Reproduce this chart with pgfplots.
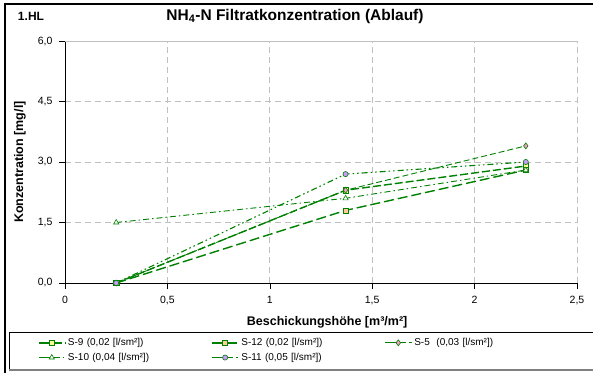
\documentclass[border=0pt]{standalone}
\usepackage{fontspec}
\setmainfont{Liberation Sans}
\usepackage{pgfplots}
\pgfplotsset{compat=1.18}
\definecolor{lgreen}{HTML}{008000}
\definecolor{gridgray}{HTML}{C0C0C0}
\definecolor{fyellow}{HTML}{FFFF99}
\definecolor{forange}{HTML}{FFCC99}
\definecolor{fpink}{HTML}{FF99CC}
\definecolor{fviolet}{HTML}{CC99FF}
\begin{document}
\begin{tikzpicture}
\begin{axis}[
  at={(0,0)}, anchor=south west,
  scale only axis,
  width=512pt, height=242pt,
  xmin=0, xmax=2.5, ymin=0, ymax=6,
  xtick={0,0.5,1,1.5,2,2.5},
  ytick={0,1.5,3,4.5,6},
  axis x line*=bottom, axis y line*=left,
  axis line style={black, line width=0.8pt, -},
  tick style={black, line width=0.6pt},
  tick align=outside,
  major tick length=6pt,
  grid=major,
  major grid style={gridgray, dash pattern=on 6pt off 4pt, line width=0.7pt},
  /pgf/number format/assume math mode=true,
  /pgf/number format/use comma,
  yticklabel style={/pgf/number format/fixed, /pgf/number format/fixed zerofill, /pgf/number format/precision=1, xshift=-3pt},
  ticklabel style={font=\fontsize{10.5}{12}\selectfont},
  xticklabel style={yshift=-4pt},
  xlabel={\textbf{Beschickungshöhe [m³/m²]}},
  xlabel style={font=\fontsize{12.5}{14}\selectfont, at={(axis description cs:0.512,0)}, anchor=center, yshift=-39pt},
  ylabel={\textbf{Konzentration [mg/l]}},
  ylabel style={font=\fontsize{12.5}{14}\selectfont, at={(axis description cs:-0.088,0.5)}, anchor=center},
  legend columns=3,
  legend cell align=left,
  legend style={at={(axis description cs:-0.053,-0.222)}, anchor=north west, draw=none, fill=none,
    font=\fontsize{10}{12}\selectfont, inner xsep=0pt, inner ysep=0pt, row sep=3pt,
    nodes={text width=142pt, align=left, inner sep=1.5pt}},
  legend image code/.code={
    \draw[#1, solid] (0pt,0pt) -- (15pt,0pt);
    \draw[#1] (15pt,0pt) -- (27pt,0pt);
    \draw[#1, solid] plot coordinates {(13pt,0pt)};
  },
]
% S-9
\addplot[lgreen, line width=1.4pt, dash pattern=on 8pt off 3pt, mark=square*, mark size=2.6pt,
  mark options={solid, fill=fyellow, draw=lgreen, line width=0.6pt}]
  coordinates {(0.25,0) (1.37,2.3) (2.25,2.9)};
\addlegendentry{S-9 (0,02 [l/sm²])}
% S-12
\addplot[lgreen, line width=1.4pt, dash pattern=on 10pt off 4pt, mark=square*, mark size=2.6pt,
  mark options={solid, fill=forange, draw=lgreen, line width=0.6pt}]
  coordinates {(0.25,0) (1.37,1.8) (2.25,2.8)};
\addlegendentry{S-12 (0,02 [l/sm²])}
% S-5
\addplot[lgreen, line width=0.9pt, dash pattern=on 6pt off 3pt, mark=diamond*, mark size=3pt,
  mark options={solid, fill=fpink, draw=lgreen, line width=0.6pt}]
  coordinates {(0.25,0) (1.37,2.3) (2.25,3.4)};
\addlegendentry{S-5\ \ (0,03 [l/sm²])}
% S-10
\addplot[lgreen, line width=0.9pt, dash pattern=on 6pt off 3pt on 1.5pt off 3pt, mark=triangle*, mark size=3pt,
  mark options={solid, fill=white, draw=lgreen, line width=0.6pt}]
  coordinates {(0.25,1.5) (1.37,2.1) (2.25,2.8)};
\addlegendentry{S-10 (0,04 [l/sm²])}
% S-11
\addplot[lgreen, line width=1.1pt, dash pattern=on 6pt off 3pt on 1.5pt off 3pt on 1.5pt off 3pt, mark=*, mark size=2.6pt,
  mark options={solid, fill=fviolet, draw=lgreen, line width=0.6pt}]
  coordinates {(0.25,0) (1.37,2.7) (2.25,3.0)};
\addlegendentry{S-11 (0,05 [l/sm²])}
\draw[gridgray, line width=0.8pt] (rel axis cs:0,1) -- (rel axis cs:1,1) -- (rel axis cs:1,0);
\end{axis}
\node[font=\fontsize{15.5}{18}\selectfont\bfseries] at (230pt,267pt) {NH\textsubscript{4}-N Filtratkonzentration (Ablauf)};
\node[font=\fontsize{12}{14}\selectfont\bfseries] at (-34pt,267pt) {1.HL};
\draw[black, line width=0.8pt] (-56pt,-87pt) -- (-56pt,-49pt) -- (535pt,-49pt);
\draw[gray, line width=1.5pt] (-56pt,-87pt) -- (535pt,-87pt);
\draw[black, line width=2.2pt] (-60pt,-95pt) -- (-60pt,279pt) -- (540pt,279pt);
\pgfresetboundingbox
\useasboundingbox (-65pt,-89pt) rectangle (528pt,283pt);
\end{tikzpicture}
\end{document}
